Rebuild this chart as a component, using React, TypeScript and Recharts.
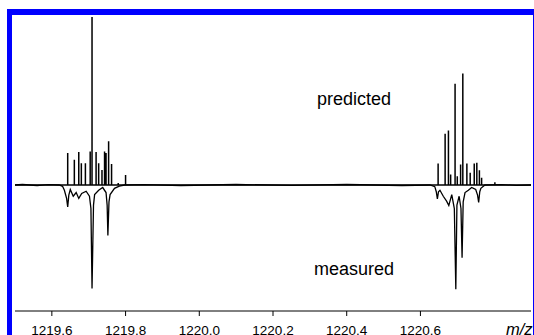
import React from 'react';
import { LineChart, Line, XAxis, YAxis, Customized } from 'recharts';

const xTicks = [1219.6, 1219.8, 1220.0, 1220.2, 1220.4, 1220.6];

// predicted isotope sticks (m/z, relative intensity, upward)
const predictedMz = [
  1219.643, 1219.661, 1219.673, 1219.680, 1219.691, 1219.704, 1219.709, 1219.720,
  1219.727, 1219.736, 1219.743, 1219.747, 1219.754, 1219.762, 1219.780, 1219.800,
  1220.648, 1220.667, 1220.676, 1220.682, 1220.694, 1220.700, 1220.709, 1220.715,
  1220.726, 1220.735, 1220.746, 1220.753, 1220.760, 1220.766, 1220.802,
];
const predictedInt = [
  19, 15, 19.6, 13, 13, 20, 100, 19.6,
  13, 9, 20, 19, 26, 12.5, 1.2, 6,
  12.8, 30.5, 32.4, 6.2, 60.2, 5.2, 12.2, 66.3,
  12.8, 7.3, 12.8, 13.2, 8.8, 4.3, 1.7,
];

// measured profile (m/z, intensity, drawn downward)
const measuredMz = [
  1219.5, 1219.52, 1219.56, 1219.59,
  1219.620, 1219.629, 1219.634, 1219.640, 1219.643, 1219.646, 1219.650, 1219.658,
  1219.666, 1219.673, 1219.681, 1219.693, 1219.702, 1219.706, 1219.709, 1219.713,
  1219.716, 1219.727, 1219.738, 1219.747, 1219.750, 1219.752, 1219.755, 1219.758,
  1219.770, 1219.783, 1219.797,
  1219.85, 1219.95, 1220.10, 1220.25, 1220.40, 1220.55,
  1220.626, 1220.639, 1220.643, 1220.646, 1220.649, 1220.653, 1220.662, 1220.671,
  1220.677, 1220.685, 1220.692, 1220.696, 1220.699, 1220.705, 1220.710, 1220.713,
  1220.716, 1220.721, 1220.730, 1220.739, 1220.750, 1220.755, 1220.758, 1220.761,
  1220.764, 1220.775,
  1220.82, 1220.86, 1220.9,
];
const measuredInt = [
  0, 0.3, -0.3, 0.2,
  0, -0.8, -3.1, -8, -13, -6, -2.7, -6.7,
  -4.5, -8, -5, -3.7, -6.7, -14, -61.6, -12,
  -5.7, -3.1, -1.5, -4.5, -12, -30, -10, -5.7,
  -2, -0.7, 0,
  0.2, -0.3, 0.3, -0.2, 0.3, -0.3,
  0, -1, -4, -8.2, -4, -3.1, -6.7, -9.6,
  -12.2, -5.7, -14, -62, -12, -6.7, -14, -43.3,
  -10, -4.5, -3.1, -1.5, -2.7, -6, -10.4, -4,
  -2, 0,
  0.2, -0.2, 0,
];

const predictedData: { mz: number; v: number }[] = [{ mz: 1219.5, v: 0 }];
predictedMz.forEach((m, i) => {
  predictedData.push({ mz: m, v: 0 });
  predictedData.push({ mz: m, v: predictedInt[i] });
  predictedData.push({ mz: m, v: 0 });
});
predictedData.push({ mz: 1220.9, v: 0 });

const measuredData = measuredMz.map((m, i) => ({ mz: m, v: measuredInt[i] }));

const FONT = "Arial, 'Liberation Sans', sans-serif";

const Labels = () => (
  <g>
    <text x={354} y={105} textAnchor="middle" fontFamily={FONT} fontSize={18} fill="#000">
      predicted
    </text>
    <text x={354} y={275} textAnchor="middle" fontFamily={FONT} fontSize={18} fill="#000">
      measured
    </text>
    <text x={506} y={335} fontFamily={FONT} fontSize={16.5} fontStyle="italic" fill="#000">
      m/z
    </text>
  </g>
);

export default function App() {
  return (
    <div
      style={{
        position: 'fixed',
        left: 0,
        top: 0,
        width: 534,
        height: 335,
        overflow: 'hidden',
        background: '#fff',
      }}
    >
      <div style={{ position: 'absolute', left: 0, top: 0 }}>
        <LineChart
          width={534}
          height={335}
          margin={{ top: 17, right: 3, bottom: 0, left: 15 }}
        >
          <XAxis
            dataKey="mz"
            type="number"
            domain={[1219.5, 1220.9]}
            allowDataOverflow
            ticks={xTicks}
            tickFormatter={(v: number) => v.toFixed(1)}
            height={24}
            tickSize={5}
            tickMargin={9}
            axisLine={{ stroke: '#000', strokeWidth: 1 }}
            tickLine={{ stroke: '#000', strokeWidth: 1 }}
            tick={{ fill: '#000', fontSize: 13.5, fontFamily: FONT }}
            interval={0}
          />
          <YAxis type="number" domain={[-75, 100]} allowDataOverflow hide />
          <Line
            data={measuredData}
            dataKey="v"
            type="linear"
            stroke="#000"
            strokeWidth={1.3}
            dot={false}
            activeDot={false}
            isAnimationActive={false}
          />
          <Line
            data={predictedData}
            dataKey="v"
            type="linear"
            stroke="#000"
            strokeWidth={1.5}
            dot={false}
            activeDot={false}
            isAnimationActive={false}
          />
          <Customized component={Labels} />
        </LineChart>
      </div>
      <div
        style={{
          position: 'absolute',
          left: 7,
          top: 9,
          width: 532,
          height: 340,
          boxSizing: 'border-box',
          borderTop: '6px solid #0000ff',
          borderLeft: '5px solid #0000ff',
          borderRight: '6px solid #0000ff',
          pointerEvents: 'none',
        }}
      />
    </div>
  );
}
